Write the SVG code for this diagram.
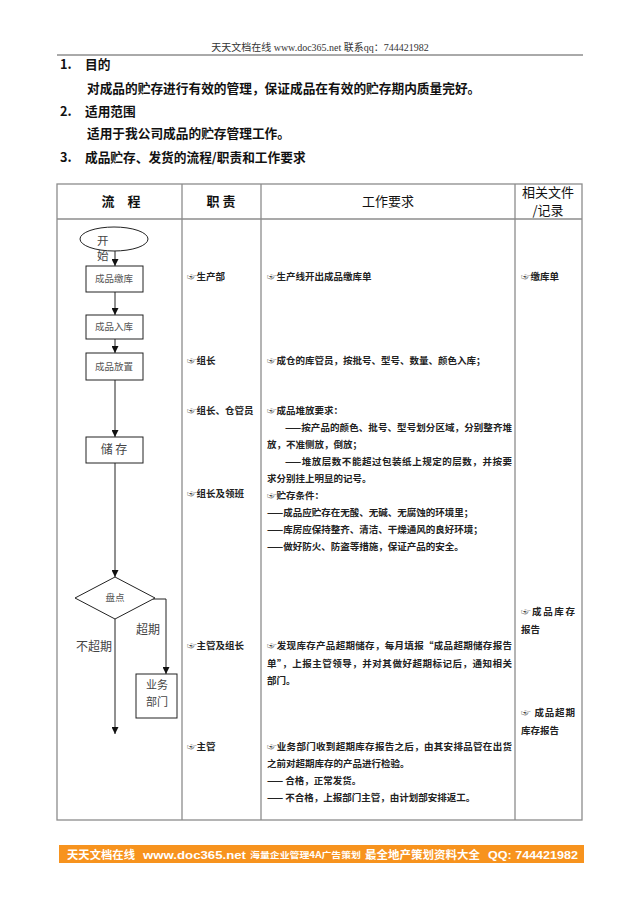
<svg xmlns="http://www.w3.org/2000/svg" width="640" height="905" viewBox="0 0 640 905">
<defs>
<marker id="ah" viewBox="0 0 10 10" refX="10" refY="5" markerWidth="7" markerHeight="7" markerUnits="userSpaceOnUse" orient="auto">
<path d="M0,0 L10,5 L0,10 z" fill="#111"/>
</marker>
<style>
.hdr{font-family:"Liberation Serif","Noto Sans CJK SC",serif;font-size:10px;fill:#333}
.sec{font-family:"Noto Sans CJK SC",sans-serif;font-size:12.7px;font-weight:bold;fill:#111}
.th{font-family:"Noto Sans CJK SC",sans-serif;font-size:13px;fill:#111}
.thb{font-family:"Noto Sans CJK SC",sans-serif;font-size:13px;font-weight:bold;fill:#111}
.t{font-family:"Noto Sans CJK SC","DejaVu Sans",sans-serif;font-size:9.5px;font-weight:bold;fill:#222}
.fl{font-family:"Noto Sans CJK SC",sans-serif;font-size:9.5px;fill:#555;text-anchor:middle}
.fl2{font-family:"Noto Sans CJK SC",sans-serif;font-size:12px;fill:#444}
.grid{stroke:#8c8c8c;stroke-width:1.3;fill:none}
.box{fill:#fff;stroke:#222;stroke-width:1}
.ln{stroke:#222;stroke-width:1;fill:none}
.ft{font-family:"Noto Sans CJK SC",sans-serif;font-weight:bold;fill:#fff}
</style>
</defs>
<rect width="640" height="905" fill="#fff"/>

<!-- page header -->
<text class="hdr" x="320" y="51" text-anchor="middle">天天文档在线 www.doc365.net 联系qq：744421982</text>
<line x1="57" y1="55" x2="583" y2="55" stroke="#555" stroke-width="1"/>

<!-- sections -->
<text class="sec" x="60" y="69">1.</text>
<text class="sec" x="85" y="69">目的</text>
<text class="sec" x="87" y="93">对成品的贮存进行有效的管理，保证成品在有效的贮存期内质量完好。</text>
<text class="sec" x="60" y="116">2.</text>
<text class="sec" x="85" y="116">适用范围</text>
<text class="sec" x="87" y="138">适用于我公司成品的贮存管理工作。</text>
<text class="sec" x="60" y="162">3.</text>
<text class="sec" x="85" y="162">成品贮存、发货的流程/职责和工作要求</text>

<!-- table grid -->
<g id="table">
<rect class="grid" x="57" y="184" width="525" height="636"/>
<line class="grid" x1="57" y1="219" x2="582" y2="219"/>
<line class="grid" x1="182" y1="184" x2="182" y2="820"/>
<line class="grid" x1="261" y1="184" x2="261" y2="820"/>
<line class="grid" x1="515" y1="184" x2="515" y2="820"/>
<text class="thb" x="121" y="206" text-anchor="middle">流　程</text>
<text class="thb" x="221" y="206" text-anchor="middle">职 责</text>
<text class="th" x="388" y="206" text-anchor="middle">工作要求</text>
<text class="th" x="548" y="197" text-anchor="middle">相关文件</text>
<text class="th" x="548" y="215" text-anchor="middle">/记录</text>
</g>

<!-- connectors -->
<g id="connectors">
<line class="ln" x1="115" y1="251" x2="115" y2="266" marker-end="url(#ah)"/>
<line class="ln" x1="115" y1="292" x2="115" y2="315" marker-end="url(#ah)"/>
<line class="ln" x1="115" y1="339" x2="115" y2="353" marker-end="url(#ah)"/>
<line class="ln" x1="115" y1="380" x2="115" y2="437" marker-end="url(#ah)"/>
<line class="ln" x1="115" y1="463" x2="115" y2="577" marker-end="url(#ah)"/>
<polyline class="ln" points="153,599 166,599 166,674" marker-end="url(#ah)"/>
<line class="ln" x1="115" y1="619" x2="115" y2="734" marker-end="url(#ah)"/>
<text class="fl2" x="136" y="634">超期</text>
<text class="fl2" x="76" y="651">不超期</text>
</g>

<!-- flow nodes -->
<g id="start">
<ellipse cx="114" cy="239" rx="34" ry="12" class="box"/>
<text class="fl2" x="97" y="245" style="font-size:11.5px"><tspan x="97" y="245">开</tspan><tspan x="97" y="260">始</tspan></text>
</g>
<g id="n1"><rect class="box" x="86" y="266" width="57" height="26"/><text class="fl" x="114" y="282">成品缴库</text></g>
<g id="n2"><rect class="box" x="86" y="315" width="57" height="24"/><text class="fl" x="114" y="330">成品入库</text></g>
<g id="n3"><rect class="box" x="86" y="353" width="57" height="27"/><text class="fl" x="114" y="370">成品放置</text></g>
<g id="n4"><rect class="box" x="86" y="437" width="57" height="26"/><text class="fl2" x="114" y="454" text-anchor="middle">储 存</text></g>
<g id="n5"><polygon class="box" points="115,577 155,598 115,619 75,598"/><text class="fl" x="115" y="601">盘点</text></g>
<g id="n6"><rect class="box" x="136" y="674" width="41" height="44"/>
<text class="fl2" x="157" y="689" text-anchor="middle" style="font-size:11px"><tspan x="157" y="689">业务</tspan><tspan x="157" y="706">部门</tspan></text></g>

<!-- responsibilities -->
<g id="roles">
<text class="t" x="187" y="280">☞生产部</text>
<text class="t" x="187" y="364">☞组长</text>
<text class="t" x="187" y="414">☞组长、仓管员</text>
<text class="t" x="187" y="497">☞组长及领班</text>
<text class="t" x="187" y="649">☞主管及组长</text>
<text class="t" x="187" y="750">☞主管</text>
</g>

<!-- work requirements -->
<g id="work">
<text class="t" x="267" y="280">☞生产线开出成品缴库单</text>
<text class="t" x="267" y="364">☞成仓的库管员，按批号、型号、数量、颜色入库；</text>
<text class="t" x="267" y="414">☞成品堆放要求：</text>
<text class="t" x="285" y="431" textLength="227" lengthAdjust="spacing">——按产品的颜色、批号、型号划分区域，分别整齐堆</text>
<text class="t" x="267" y="448">放，不准侧放，倒放；</text>
<text class="t" x="285" y="465" textLength="227" lengthAdjust="spacing">——堆放层数不能超过包装纸上规定的层数，并按要</text>
<text class="t" x="267" y="482">求分别挂上明显的记号。</text>
<text class="t" x="267" y="499">☞贮存条件：</text>
<text class="t" x="267" y="516">——成品应贮存在无酸、无碱、无腐蚀的环境里；</text>
<text class="t" x="267" y="533">——库房应保持整齐、清洁、干燥通风的良好环境；</text>
<text class="t" x="267" y="550">——做好防火、防盗等措施，保证产品的安全。</text>
<text class="t" x="267" y="649" textLength="245" lengthAdjust="spacing">☞发现库存产品超期储存，每月填报“成品超期储存报告</text>
<text class="t" x="267" y="667" textLength="245" lengthAdjust="spacing">单”，上报主管领导，并对其做好超期标记后，通知相关</text>
<text class="t" x="267" y="684">部门。</text>
<text class="t" x="267" y="750" textLength="245" lengthAdjust="spacing">☞业务部门收到超期库存报告之后，由其安排品管在出货</text>
<text class="t" x="267" y="767">之前对超期库存的产品进行检验。</text>
<text class="t" x="267" y="784">—— 合格，正常发货。</text>
<text class="t" x="267" y="801">—— 不合格，上报部门主管，由计划部安排返工。</text>
</g>

<!-- records -->
<g id="records">
<text class="t" x="521" y="280">☞缴库单</text>
<text class="t" x="521" y="615" textLength="54" lengthAdjust="spacing">☞成品库存</text>
<text class="t" x="521" y="633">报告</text>
<text class="t" x="521" y="716" textLength="54" lengthAdjust="spacing">☞ 成品超期</text>
<text class="t" x="521" y="734">库存报告</text>
</g>

<!-- footer banner -->
<g id="footer">
<rect x="59" y="845" width="525" height="18" fill="#F7931E"/>
<text class="ft" x="67" y="859" style="font-size:11.5px" textLength="68" lengthAdjust="spacingAndGlyphs">天天文档在线</text>
<text class="ft" x="143" y="859" style="font-size:11.5px;font-family:'Liberation Sans',sans-serif" textLength="103" lengthAdjust="spacingAndGlyphs">www.doc365.net</text>
<text class="ft" x="250" y="858" style="font-size:8.5px" textLength="111" lengthAdjust="spacingAndGlyphs">海量企业管理4A广告策划</text>
<text class="ft" x="365" y="859" style="font-size:11.5px" textLength="115" lengthAdjust="spacingAndGlyphs">最全地产策划资料大全</text>
<text class="ft" x="488" y="859" style="font-size:11.5px;font-family:'Liberation Sans',sans-serif" textLength="90" lengthAdjust="spacingAndGlyphs">QQ: 744421982</text>
</g>
</svg>
